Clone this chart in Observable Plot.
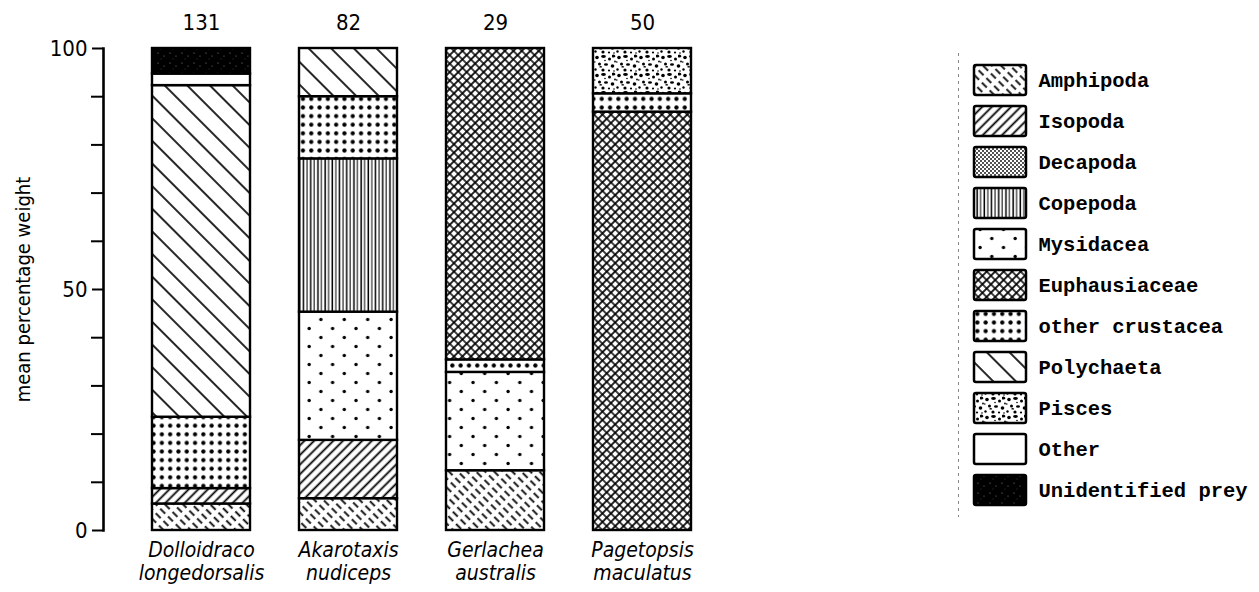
<!DOCTYPE html>
<html><head><meta charset="utf-8">
<script src="https://cdn.jsdelivr.net/npm/d3@7"></script>
<script src="https://cdn.jsdelivr.net/npm/@observablehq/plot@0.6"></script>
<style>
body{margin:0;background:#fff;}
#wrap{position:relative;width:1259px;height:592px;overflow:hidden;background:#fff;}
#main{position:absolute;left:0;top:0;}
#legend{position:absolute;left:940px;top:0;}
</style></head><body>
<svg width="0" height="0" style="position:absolute">
<defs>
<pattern id="p-amph" width="11" height="6.4" patternUnits="userSpaceOnUse" patternTransform="rotate(45)">
  <rect width="11" height="6.4" fill="#fff"/>
  <line x1="0" y1="3.2" x2="7" y2="3.2" stroke="#000" stroke-width="1.8"/>
</pattern>
<pattern id="p-iso" width="6.8" height="6.8" patternUnits="userSpaceOnUse" patternTransform="rotate(-45)">
  <rect width="6.8" height="6.8" fill="#fff"/>
  <line x1="-1" y1="3.4" x2="8" y2="3.4" stroke="#000" stroke-width="1.8"/>
</pattern>
<pattern id="p-deca" width="4" height="4" patternUnits="userSpaceOnUse">
  <rect width="4" height="4" fill="#fff"/>
  <circle cx="1" cy="1" r="0.9" fill="#000"/><circle cx="3" cy="3" r="0.9" fill="#000"/>
</pattern>
<pattern id="p-cope" width="7.2" height="10" patternUnits="userSpaceOnUse">
  <rect width="7.2" height="10" fill="#fff"/>
  <rect x="0.4" width="1.5" height="10" fill="#000"/><rect x="4.1" width="1.0" height="10" fill="#000"/>
</pattern>
<pattern id="p-mysi" width="23.4" height="18" patternUnits="userSpaceOnUse">
  <rect width="23.4" height="18" fill="#fff"/>
  <circle cx="5" cy="4.5" r="1.7" fill="#000"/><circle cx="16.7" cy="13.5" r="1.7" fill="#000"/>
</pattern>
<pattern id="p-euph" width="6" height="6" patternUnits="userSpaceOnUse" patternTransform="rotate(45)">
  <rect width="6" height="6" fill="#fff"/>
  <path d="M-1,3H7M3,-1V7" stroke="#000" stroke-width="1.7"/>
</pattern>
<pattern id="p-ocru" width="8.3" height="8.6" patternUnits="userSpaceOnUse">
  <rect width="8.3" height="8.6" fill="#fff"/>
  <circle cx="4.15" cy="4.3" r="2.1" fill="#000"/>
</pattern>
<pattern id="p-poly" width="16" height="16" patternUnits="userSpaceOnUse" patternTransform="rotate(45)">
  <rect width="16" height="16" fill="#fff"/>
  <line x1="-1" y1="8" x2="17" y2="8" stroke="#000" stroke-width="1.7"/>
</pattern>
<pattern id="p-pisc" width="22" height="18" patternUnits="userSpaceOnUse">
  <rect width="22" height="18" fill="#fff"/>
  <g fill="#000">
  <circle cx="3" cy="3.5" r="1.8"/><ellipse cx="9.5" cy="2.5" rx="2.4" ry="1.4"/><circle cx="15.5" cy="5" r="1.5"/>
  <path d="M18,1 q2.5,-1.2 3.5,1.2 q-1.2,2.2 -3.5,1z"/><circle cx="5.5" cy="10" r="1.5"/><ellipse cx="12" cy="10.5" rx="2" ry="1.3"/>
  <circle cx="18.5" cy="12" r="1.8"/><circle cx="1.5" cy="15.5" r="1.2"/><circle cx="9" cy="16" r="1.6"/>
  <circle cx="15" cy="16.5" r="1.1"/><circle cx="21" cy="7.5" r="0.9"/><circle cx="11" cy="6.5" r="0.8"/>
  <circle cx="0.8" cy="8" r="0.8"/><circle cx="20" cy="17" r="0.8"/><path d="M5,13 q2,-2 3.2,0 q-1,1.2 -3.2,0z"/>
  </g>
</pattern>
<pattern id="p-unid" width="12" height="10" patternUnits="userSpaceOnUse">
  <rect width="12" height="10" fill="#000"/>
  <circle cx="2" cy="3" r="0.6" fill="#888"/><circle cx="8" cy="6" r="0.5" fill="#999"/><circle cx="5" cy="9" r="0.4" fill="#777"/>
</pattern>
</defs></svg>
<div id="wrap"><div id="main"></div><div id="legend"></div></div>
<script>
// Species (bars) and sample sizes
const species = ["Dolloidraco longedorsalis", "Akarotaxis nudiceps", "Gerlachea australis", "Pagetopsis maculatus"];
const counts = [131, 82, 29, 50];

// Prey categories (legend order) and their fill patterns
const categories = ["Amphipoda", "Isopoda", "Decapoda", "Copepoda", "Mysidacea", "Euphausiaceae",
  "other crustacea", "Polychaeta", "Pisces", "Other", "Unidentified prey"];
const patterns = ["url(#p-amph)", "url(#p-iso)", "url(#p-deca)", "url(#p-cope)", "url(#p-mysi)", "url(#p-euph)",
  "url(#p-ocru)", "url(#p-poly)", "url(#p-pisc)", "#fff", "url(#p-unid)"];

// Segments per bar, bottom to top (mean percentage weight)
const dolloidracoPrey = ["Amphipoda", "Isopoda", "other crustacea", "Polychaeta", "Other", "Unidentified prey"];
const dolloidracoValues = [5.5, 3.2, 14.8, 68.8, 2.4, 5.3];
const akarotaxisPrey = ["Amphipoda", "Isopoda", "Mysidacea", "Copepoda", "other crustacea", "Polychaeta"];
const akarotaxisValues = [6.6, 12.1, 26.6, 31.8, 12.9, 10.0];
const gerlacheaPrey = ["Amphipoda", "Mysidacea", "other crustacea", "Euphausiaceae"];
const gerlacheaValues = [12.4, 20.4, 2.6, 64.6];
const pagetopsisPrey = ["Euphausiaceae", "other crustacea", "Pisces"];
const pagetopsisValues = [86.8, 3.8, 9.4];

const majorTicks = [0, 50, 100];
const minorTicks = [10, 20, 30, 40, 60, 70, 80, 90];

const preyLists = [dolloidracoPrey, akarotaxisPrey, gerlacheaPrey, pagetopsisPrey];
const valueLists = [dolloidracoValues, akarotaxisValues, gerlacheaValues, pagetopsisValues];
const table = [];
species.forEach((s, i) => preyLists[i].forEach((c, j) => table.push({species: s, category: c, value: valueLists[i][j]})));
const countTable = species.map((s, i) => ({species: s, n: counts[i]}));

const sans = "'DejaVu Sans Condensed', 'DejaVu Sans', sans-serif";

const main = Plot.plot({
  width: 1259, height: 592,
  marginLeft: 103, marginRight: 519, marginTop: 48, marginBottom: 62,
  x: {domain: species, padding: 1/3, label: null},
  y: {domain: [0, 100], label: null},
  color: {domain: categories, range: patterns},
  style: {fontFamily: sans, fontSize: "22px", color: "#000", background: "transparent", fontStretch: "condensed"},
  marks: [
    Plot.barY(table, {x: "species", y: "value", fill: "category", stroke: "#000", strokeWidth: 2.4}),
    Plot.frame({anchor: "left", stroke: "#000", strokeWidth: 2.6}),
    Plot.axisY({ticks: minorTicks, tickSize: 12, tickFormat: () => "", strokeWidth: 2, label: null}),
    Plot.axisY({ticks: majorTicks, tickSize: 11, tickPadding: 5, strokeWidth: 2, fontSize: 22, label: null}),
    Plot.axisY({ticks: [], fontSize: 20, label: "mean percentage weight", labelAnchor: "center",
      labelArrow: "none", labelOffset: 88}),
    Plot.axisX({tickSize: 0, tickPadding: 10, tickFormat: d => d.replace(" ", "\n"), fontStyle: "italic",
      fontSize: 21, lineHeight: 1.1, label: null}),
    Plot.text(countTable, {x: "species", y: () => 100, text: "n", dy: -26, fontSize: 22})
  ]
});
document.getElementById("main").appendChild(main);

const legend = Plot.plot({
  width: 319, height: 592,
  marginLeft: 34, marginRight: 233, marginTop: 53, marginBottom: 76,
  x: {domain: ["swatch"], padding: 0, axis: null},
  y: {domain: categories, padding: 0.27, axis: null},
  color: {domain: categories, range: patterns},
  style: {background: "transparent"},
  marks: [
    Plot.frame({anchor: "left", dx: -16, stroke: "#888", strokeWidth: 1, strokeDasharray: "2,5"}),
    Plot.cell(categories, {x: () => "swatch", y: d => d, fill: d => d, stroke: "#000", strokeWidth: 2.5, rx: 2}),
    Plot.text(categories, {x: () => "swatch", y: d => d, text: d => d, dx: 38, textAnchor: "start",
      fontFamily: "'Liberation Mono', monospace", fontWeight: "bold", fontSize: 20.5, fill: "#000"})
  ]
});
document.getElementById("legend").appendChild(legend);
</script>
</body></html>
